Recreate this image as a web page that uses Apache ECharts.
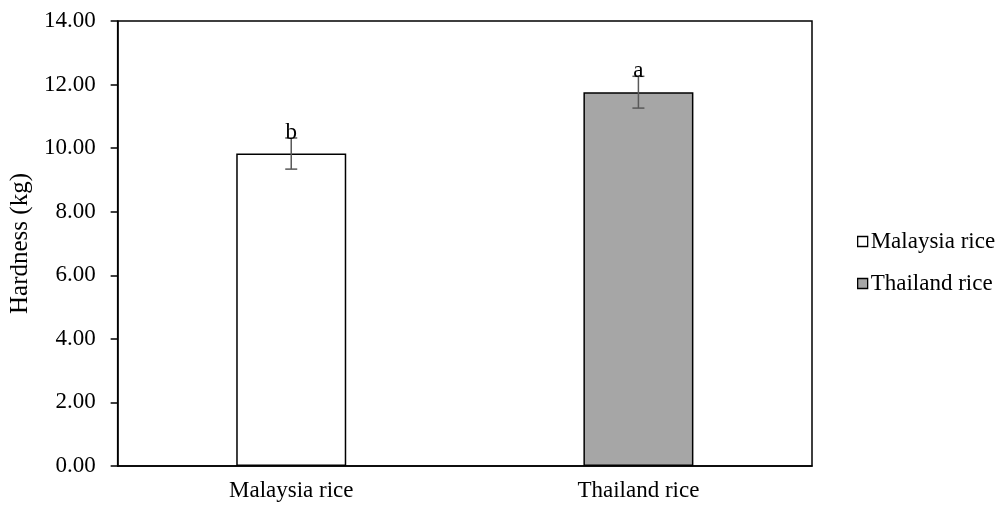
<!DOCTYPE html>
<html>
<head>
<meta charset="utf-8">
<script src="https://cdn.jsdelivr.net/npm/echarts@6/dist/echarts.min.js"></script>
<style>html,body{margin:0;padding:0;background:#fff;}#c{width:1002px;height:509px;}</style>
</head>
<body>
<div id="c"></div>
<script>
var categories = ['Malaysia rice', 'Thailand rice'];
var hardness = [9.83, 11.76];
var errors = [0.49, 0.50];
var letters = ['b', 'a'];
var yTicks = [0, 2, 4, 6, 8, 10, 12, 14];

var FONT = "'Liberation Serif', 'Times New Roman', serif";
var FS = 23;
var chart = echarts.init(document.getElementById('c'));

var errData = categories.map(function (c, i) {
  return [i, hardness[i] - errors[i], hardness[i] + errors[i]];
});

chart.setOption({
  animation: false,
  textStyle: { fontFamily: FONT },
  grid: { left: 116, top: 21, right: 190, bottom: 43, show: true, borderColor: '#000', borderWidth: 1.5, backgroundColor: 'transparent' },
  legend: {
    orient: 'vertical',
    left: 852,
    top: 225,
    itemWidth: 10,
    itemHeight: 10,
    itemGap: 19,
    icon: 'rect',
    textStyle: { fontFamily: FONT, fontSize: FS, color: '#000', padding: [0, 0, 0, -2] },
    data: [
      { name: 'Malaysia rice', itemStyle: { color: '#fff', borderColor: '#000', borderWidth: 1.3 } },
      { name: 'Thailand rice', itemStyle: { color: '#a6a6a6', borderColor: '#000', borderWidth: 1.3 } }
    ]
  },
  xAxis: {
    type: 'category',
    data: categories,
    axisLine: { lineStyle: { color: '#000', width: 1.5 } },
    axisTick: { show: false },
    axisLabel: { color: '#000', fontFamily: FONT, fontSize: FS, margin: 13 }
  },
  yAxis: {
    type: 'value',
    min: yTicks[0],
    max: yTicks[yTicks.length - 1],
    interval: 2,
    name: 'Hardness (kg)',
    nameLocation: 'middle',
    nameGap: 84,
    nameTextStyle: { color: '#000', fontFamily: FONT, fontSize: 25 },
    axisLine: { show: true, lineStyle: { color: '#000', width: 1.5 } },
    axisTick: { show: true, length: 7, lineStyle: { color: '#000', width: 1.5 } },
    splitLine: { show: false },
    axisLabel: { color: '#000', fontFamily: FONT, fontSize: FS, margin: 22, formatter: function (v) { return v.toFixed(2); } }
  },
  series: [
    {
      name: 'Malaysia rice', type: 'bar', barWidth: 110, barGap: '-100%',
      data: [hardness[0], '-'],
      itemStyle: { color: '#fff', borderColor: '#000', borderWidth: 1.5 }
    },
    {
      name: 'Thailand rice', type: 'bar', barWidth: 110, barGap: '-100%',
      data: ['-', hardness[1]],
      itemStyle: { color: '#a6a6a6', borderColor: '#000', borderWidth: 1.5 }
    },
    {
      type: 'custom',
      name: 'err',
      z: 10,
      data: errData,
      renderItem: function (params, api) {
        var x = api.value(0);
        var lo = api.coord([x, api.value(1)]);
        var hi = api.coord([x, api.value(2)]);
        var w = 6;
        var st = { stroke: '#595959', lineWidth: 1.5 };
        return {
          type: 'group',
          children: [
            { type: 'line', shape: { x1: lo[0], y1: lo[1], x2: hi[0], y2: hi[1] }, style: st },
            { type: 'line', shape: { x1: lo[0] - w, y1: lo[1], x2: lo[0] + w, y2: lo[1] }, style: st },
            { type: 'line', shape: { x1: hi[0] - w, y1: hi[1], x2: hi[0] + w, y2: hi[1] }, style: st },
            { type: 'text', x: hi[0], y: hi[1] + 6, style: { text: letters[params.dataIndex], fill: '#000', font: FS + 'px ' + FONT, textAlign: 'center', textVerticalAlign: 'bottom' } }
          ]
        };
      }
    }
  ]
});
</script>
</body>
</html>
